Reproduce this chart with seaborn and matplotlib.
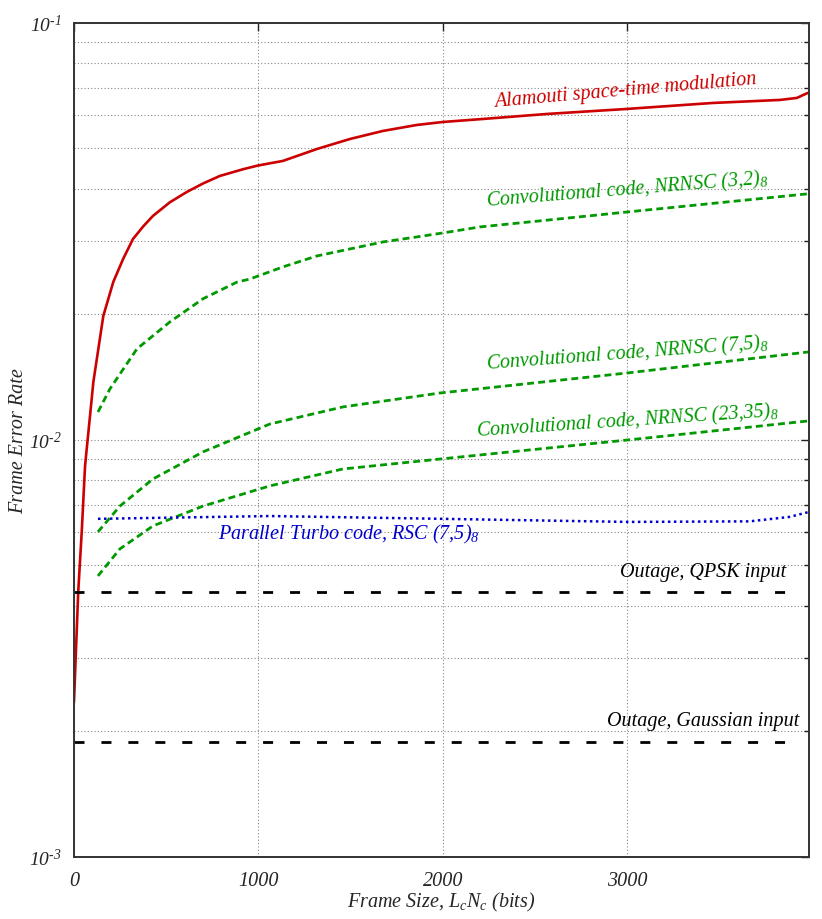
import numpy as np
import pandas as pd
import seaborn as sns
import matplotlib.pyplot as plt
from matplotlib.ticker import LogLocator, NullFormatter

# values: frame size (bits) vs frame error rate
alamouti_x = [0, 23, 42, 60, 69, 96, 105, 159, 213, 267, 320, 376, 428, 520,
              612, 701, 791, 918, 997, 1133, 1317, 1496, 1675, 1859, 2000, 2217,
              2564, 2997, 3463, 3827, 3919, 3978]
alamouti_fer = [2.35e-3, 4.32e-3, 6.02e-3, 8.66e-3, 9.51e-3, 1.254e-2, 1.377e-2,
                1.983e-2, 2.392e-2, 2.72e-2, 3.034e-2, 3.254e-2, 3.445e-2, 3.715e-2,
                3.933e-2, 4.124e-2, 4.296e-2, 4.46e-2, 4.55e-2, 4.668e-2, 4.985e-2,
                5.268e-2, 5.508e-2, 5.693e-2, 5.787e-2, 5.884e-2, 6.049e-2, 6.219e-2,
                6.428e-2, 6.536e-2, 6.609e-2, 6.794e-2]

conv32_x = [130, 195, 341, 520, 699, 883, 954, 1133, 1317, 1496, 1675, 1859,
            2000, 2201, 2309, 2997, 3973]
conv32_fer = [1.167e-2, 1.326e-2, 1.653e-2, 1.919e-2, 2.18e-2, 2.39e-2, 2.432e-2,
              2.600e-2, 2.762e-2, 2.871e-2, 2.984e-2, 3.068e-2, 3.136e-2, 3.242e-2,
              3.278e-2, 3.52e-2, 3.89e-2]

conv75_x = [130, 249, 428, 699, 1062, 1458, 1984, 3003, 3984]
conv75_fer = [6.02e-3, 6.94e-3, 8.06e-3, 9.36e-3, 1.092e-2, 1.20e-2, 1.296e-2,
              1.448e-2, 1.626e-2]

conv2335_x = [130, 249, 428, 699, 1062, 1458, 1984, 3003, 3984]
conv2335_fer = [4.72e-3, 5.48e-3, 6.22e-3, 6.94e-3, 7.76e-3, 8.52e-3, 9.00e-3,
                1.00e-2, 1.111e-2]

turbo_x = [130, 1062, 1990, 3003, 3664, 3881, 3984]
turbo_fer = [6.47e-3, 6.57e-3, 6.47e-3, 6.36e-3, 6.38e-3, 6.54e-3, 6.72e-3]

outage_x = [0, 3920]
outage_qpsk = [4.32e-3, 4.32e-3]
outage_gauss = [1.89e-3, 1.89e-3]

xticks = [0, 1000, 2000, 3000]
xtick_labels = ["0", "1000", "2000", "3000"]
yticks = [1e-3, 1e-2, 1e-1]
ytick_labels = [r"$10^{\text{-}3}$", r"$10^{\text{-}2}$", r"$10^{\text{-}1}$"]

RED = "#cc0000"
GREEN = "#009900"
BLUE = "#0000cc"

sns.set_style("white")
plt.rcParams["font.family"] = ["Liberation Serif", "DejaVu Serif"]
plt.rcParams["font.style"] = "italic"
plt.rcParams["mathtext.fontset"] = "custom"
plt.rcParams["mathtext.rm"] = "Liberation Serif:italic"
plt.rcParams["mathtext.it"] = "Liberation Serif:italic"
FS = 14.5

fig = plt.figure(figsize=(8.22, 9.2), dpi=100)
ax = fig.add_axes([0.090, 0.0674, 0.894, 0.9066])

dash_green = (0, (2.5, 1.5))
dash_black = (0, (3.6, 6.1))
sns.lineplot(x=alamouti_x, y=alamouti_fer, ax=ax, color=RED, lw=1.9)
sns.lineplot(x=conv32_x, y=conv32_fer, ax=ax, color=GREEN, lw=2.0, linestyle=dash_green)
sns.lineplot(x=conv75_x, y=conv75_fer, ax=ax, color=GREEN, lw=2.0, linestyle=dash_green)
sns.lineplot(x=conv2335_x, y=conv2335_fer, ax=ax, color=GREEN, lw=2.0, linestyle=dash_green)
sns.lineplot(x=turbo_x, y=turbo_fer, ax=ax, color=BLUE, lw=1.8, linestyle=(0, (1, 1.4)))
sns.lineplot(x=outage_x, y=outage_qpsk, ax=ax, color="black", lw=2.0, linestyle=dash_black)
sns.lineplot(x=outage_x, y=outage_gauss, ax=ax, color="black", lw=2.0, linestyle=dash_black)

ax.set_yscale("log")
ax.set_xlim(0, 3984)
ax.set_ylim(1e-3, 1e-1)
ax.set_xticks(xticks)
ax.set_xticklabels(xtick_labels, fontsize=FS)
ax.set_yticks(yticks)
ax.set_yticklabels(ytick_labels, fontsize=14)
ax.yaxis.set_minor_locator(LogLocator(base=10, subs=range(2, 10)))
ax.yaxis.set_minor_formatter(NullFormatter())

ax.grid(True, which="both", axis="y", color="#888888", lw=0.8, linestyle=(0, (1, 2)))
ax.grid(True, which="major", axis="x", color="#888888", lw=0.8, linestyle=(0, (1, 2)))
ax.tick_params(which="both", direction="in", top=True, right=True, color="#222222")
ax.tick_params(which="major", length=6, width=1.0)
ax.tick_params(which="minor", length=3.5, width=1.0)
ax.tick_params(axis="x", pad=10)
ax.tick_params(axis="y", pad=9)
for s in ax.spines.values():
    s.set_linewidth(1.4)
    s.set_color("#333333")

ax.set_xlabel(r"Frame Size, $L_cN_c$ (bits)", fontsize=FS, labelpad=0)
ax.set_ylabel("Frame Error Rate", fontsize=FS)
ax.yaxis.set_label_coords(-0.062, 0.5)

# curve annotations
ax.text(2282, 0.0633, "Alamouti space-time modulation", color=RED, fontsize=FS,
        rotation=5.0, rotation_mode="anchor", ha="left", va="baseline")
ax.text(2238, 0.0364, r"Convolutional code, NRNSC (3,2)$_8$", color=GREEN, fontsize=FS,
        rotation=4.6, rotation_mode="anchor", ha="left", va="baseline")
ax.text(2238, 0.01481, r"Convolutional code, NRNSC (7,5)$_8$", color=GREEN, fontsize=FS,
        rotation=4.3, rotation_mode="anchor", ha="left", va="baseline")
ax.text(2184, 0.01023, r"Convolutional code, NRNSC (23,35)$_8$", color=GREEN, fontsize=FS,
        rotation=3.8, rotation_mode="anchor", ha="left", va="baseline")
ax.text(780, 5.82e-3, r"Parallel Turbo code, RSC (7,5)$_8$", color=BLUE, fontsize=FS,
        ha="left", va="baseline")
ax.text(3859, 4.72e-3, "Outage, QPSK input", color="black", fontsize=FS,
        ha="right", va="baseline")
ax.text(3935, 2.07e-3, "Outage, Gaussian input", color="black", fontsize=FS,
        ha="right", va="baseline")

fig.savefig("out.png", dpi=100)
